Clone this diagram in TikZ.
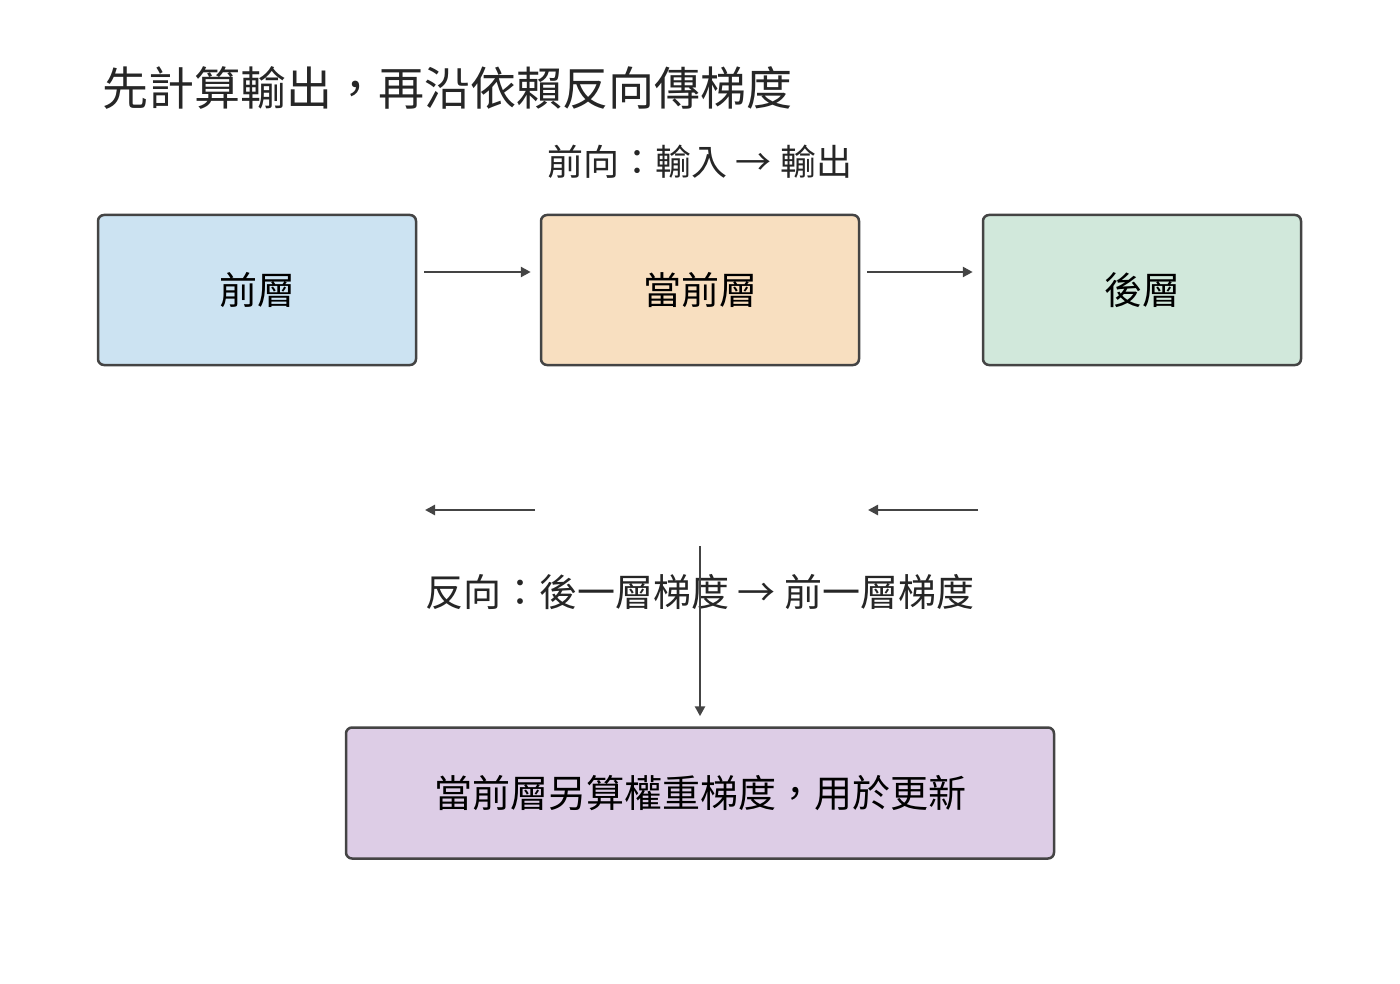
\documentclass[tikz,border=0pt]{standalone}
\usepackage{fontspec}
\newfontfamily\cjk{Noto Sans CJK TC}
\usetikzlibrary{arrows.meta}
\definecolor{edgegray}{HTML}{444444}
\definecolor{blueish}{HTML}{CCE3F2}
\definecolor{orangeish}{HTML}{F8DFC0}
\definecolor{greenish}{HTML}{D1E8DB}
\definecolor{purpleish}{HTML}{DDCDE6}
\begin{document}
\begin{tikzpicture}[%
        x = 1pt,
        y = -1pt,
        line width = 2.5pt,
        > = {Triangle[length=10pt, width=10pt]},
        layer/.style = {%
            draw = edgegray,
            rounded corners = 6pt,
            minimum width = 318pt,
            minimum height = 150pt,
            font = \cjk\fontsize{38}{44}\selectfont
        },
        flow/.style = {%
            draw = edgegray,
            line width = 2.5pt,
            ->
        }
    ]
        \useasboundingbox (0, 0) rectangle (1400, 984);
        \node[anchor = west, font = \cjk\fontsize{46}{52}\selectfont, text = black!85] (title) at (98, 88) {先計算輸出，再沿依賴反向傳梯度};
        \node[font = \cjk\fontsize{36}{42}\selectfont, text = black!85] (fwd) at (700, 162) {前向：輸入 → 輸出};
        \node[layer, fill = blueish] (prev) at (257, 290) {前層};
        \node[layer, fill = orangeish] (cur) at (700, 290) {當前層};
        \node[layer, fill = greenish] (next) at (1142, 290) {後層};
        \node[layer, fill = purpleish, minimum width = 708pt, minimum height = 131pt] (upd) at (700, 793) {當前層另算權重梯度，用於更新};
        \node[font = \cjk\fontsize{38}{44}\selectfont, text = black!85] (bwd) at (700, 592) {反向：後一層梯度 → 前一層梯度};
        \coordinate (b1s) at (535, 510);
        \coordinate (b1e) at (425, 510);
        \coordinate (b2s) at (978, 510);
        \coordinate (b2e) at (868, 510);
        \coordinate (vs) at (700, 546);
        \draw[flow] ([xshift = 7pt, yshift = 18pt]prev.east) -- ([xshift = -9pt, yshift = 18pt]cur.west);
        \draw[flow] ([xshift = 7pt, yshift = 18pt]cur.east) -- ([xshift = -9pt, yshift = 18pt]next.west);
        \draw[flow] (b1s) -- (b1e);
        \draw[flow] (b2s) -- (b2e);
        \draw[flow] (vs) -- ([yshift = 10pt]upd.north);
    \end{tikzpicture}
\end{document}
